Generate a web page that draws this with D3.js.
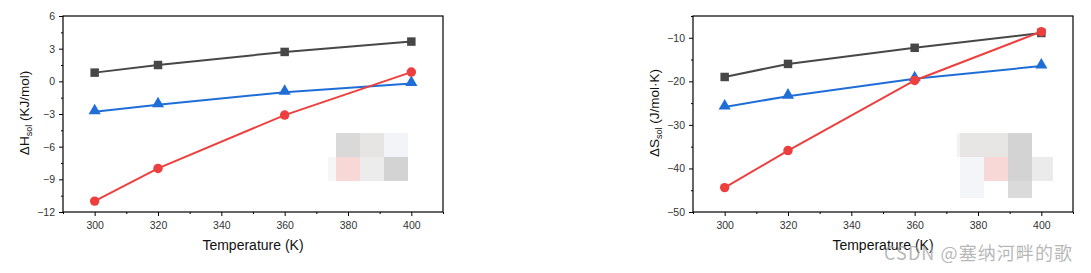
<!DOCTYPE html>
<html>
<head>
<meta charset="utf-8">
<script src="https://cdn.jsdelivr.net/npm/d3@7"></script>
<style>
  body { margin: 0; background: #fff; }
  svg { display: block; font-family: Arial, "Liberation Sans", sans-serif; }
</style>
</head>
<body>
<div id="chart"></div>
<script>
// Data
const temps = [300, 320, 360, 400];

// Left panel: enthalpy of solution (KJ/mol)
const dH_square = [0.8, 1.5, 2.7, 3.65];
const dH_circle = [-11.0, -8.0, -3.1, 0.85];
const dH_triangle = [-2.8, -2.15, -1.0, -0.2];

// Right panel: entropy of solution (J/mol·K)
const dS_square = [-19.0, -16.0, -12.3, -8.9];
const dS_circle = [-44.4, -35.9, -19.8, -8.6];
const dS_triangle = [-25.9, -23.4, -19.4, -16.5];

const xTicks = [300, 320, 340, 360, 380, 400];
const dH_ticks = [-12, -9, -6, -3, 0, 3, 6];
const dS_ticks = [-50, -40, -30, -20, -10];

const colors = { square: "#474747", circle: "#ee3f3f", triangle: "#1f6ed8" };

const width = 1091;
const height = 273;

const svg = d3.select("#chart")
    .append("svg")
    .attr("width", width)
    .attr("height", height);

function drawPanel(opts) {
    const { left, right, top, bottom, yDomain, yTicks, yMinorStep, series, yMain, yUnit, yLabelX } = opts;

    const xScale = d3.scaleLinear().domain([290, 410]).range([left, right]);
    const yScale = d3.scaleLinear().domain(yDomain).range([bottom, top]);

    const g = svg.append("g");

    // decorative mosaic blocks (blurred legend)
    g.selectAll(".mosaic")
        .data(opts.mosaic)
        .enter()
        .append("rect")
        .attr("x", d => d[0]).attr("y", d => d[1])
        .attr("width", d => d[2]).attr("height", d => d[3])
        .attr("fill", d => d[4]);

    // frame
    g.append("rect")
        .attr("x", left).attr("y", top)
        .attr("width", right - left).attr("height", bottom - top)
        .attr("fill", "none").attr("stroke", "#000").attr("stroke-width", 1.2);

    // X axis
    const xAxis = d3.axisBottom(xScale).tickValues(xTicks).tickSize(4).tickSizeOuter(0).tickPadding(6);
    const xg = g.append("g").attr("transform", `translate(0, ${bottom})`).call(xAxis);
    const xMinor = d3.axisBottom(xScale).tickValues(d3.range(290, 411, 10).filter(v => v % 20 !== 0)).tickSize(2).tickFormat("");
    const xmg = g.append("g").attr("transform", `translate(0, ${bottom})`).call(xMinor);

    // Y axis
    const yAxis = d3.axisLeft(yScale).tickValues(yTicks).tickSize(4).tickSizeOuter(0).tickPadding(4)
        .tickFormat(d => d < 0 ? "\u2212" + Math.abs(d) : d);
    const yg = g.append("g").attr("transform", `translate(${left}, 0)`).call(yAxis);
    const minorVals = d3.range(yDomain[0], yDomain[1] + 0.001, yMinorStep).filter(v => !yTicks.includes(v));
    const yMinor = d3.axisLeft(yScale).tickValues(minorVals).tickSize(2).tickFormat("");
    const ymg = g.append("g").attr("transform", `translate(${left}, 0)`).call(yMinor);

    [xg, xmg, yg, ymg].forEach(a => {
        a.select(".domain").remove();
        a.selectAll("line").attr("stroke", "#000").attr("stroke-width", 1);
        a.selectAll("text").attr("fill", "#333").style("font-size", "10.5px");
    });

    // axis titles
    g.append("text")
        .attr("x", (left + right) / 2)
        .attr("y", bottom + 38)
        .attr("text-anchor", "middle")
        .style("font-size", "14px")
        .attr("fill", "#111")
        .text("Temperature (K)");

    const yl = g.append("text")
        .attr("transform", `translate(${yLabelX}, ${(top + bottom) / 2 - 1}) rotate(-90)`)
        .attr("text-anchor", "middle")
        .style("font-size", "13.5px")
        .attr("fill", "#111");
    yl.append("tspan").text("\u0394" + yMain);
    yl.append("tspan").attr("dy", 3).style("font-size", "9px").text("sol");
    yl.append("tspan").attr("dy", -3).text(" " + yUnit);

    // series
    const line = d3.line().x((d, i) => xScale(temps[i])).y(d => yScale(d));
    series.forEach(s => {
        g.append("path")
            .datum(s.values)
            .attr("d", line)
            .attr("fill", "none")
            .attr("stroke", colors[s.shape])
            .attr("stroke-width", 2);

        const sym = s.shape === "square" ? d3.symbolSquare : s.shape === "circle" ? d3.symbolCircle : d3.symbolTriangle;
        const size = s.shape === "square" ? 72 : s.shape === "circle" ? 70 : 64;
        g.selectAll(null)
            .data(s.values)
            .enter()
            .append("path")
            .attr("d", d3.symbol().type(sym).size(size))
            .attr("transform", (d, i) => `translate(${xScale(temps[i])}, ${yScale(d) + (s.shape === "triangle" ? -1 : 0)})`)
            .attr("fill", colors[s.shape]);
    });
}

drawPanel({
    left: 63, right: 443, top: 16, bottom: 212,
    yDomain: [-12, 6], yTicks: dH_ticks, yMinorStep: 1.5,
    yMain: "H", yUnit: "(KJ/mol)", yLabelX: 29,
    series: [
        { shape: "square", values: dH_square },
        { shape: "triangle", values: dH_triangle },
        { shape: "circle", values: dH_circle }
    ],
    mosaic: [
        [336, 133, 24, 24, "#d9d9d9"], [360, 133, 24, 24, "#e6e5e3"], [384, 133, 24, 24, "#f3f4f8"],
        [328, 157, 8, 24, "#f6f6f6"], [336, 157, 24, 24, "#f8d7d7"], [360, 157, 24, 24, "#ececec"], [384, 157, 24, 24, "#d3d3d3"]
    ]
});

drawPanel({
    left: 693, right: 1073, top: 16, bottom: 212,
    yDomain: [-50, -5], yTicks: dS_ticks, yMinorStep: 5,
    yMain: "S", yUnit: "(J/mol\u00b7K)", yLabelX: 659,
    series: [
        { shape: "square", values: dS_square },
        { shape: "triangle", values: dS_triangle },
        { shape: "circle", values: dS_circle }
    ],
    mosaic: [
        [957, 133, 3, 24, "#f2f2f2"],
        [960, 133, 48, 24, "#e7e6e4"], [1008, 133, 24, 24, "#d3d3d3"],
        [960, 157, 24, 24, "#f4f5f9"], [984, 157, 24, 24, "#f8d7d7"], [1008, 157, 24, 24, "#d3d3d3"], [1032, 157, 21, 24, "#ebebeb"],
        [960, 181, 24, 17, "#f4f5f9"], [1008, 181, 24, 17, "#dadada"]
    ]
});

// watermark
svg.append("text")
    .attr("x", 884)
    .attr("y", 260)
    .attr("textLength", 188)
    .style("font-family", "'Noto Sans CJK SC', sans-serif")
    .style("font-size", "18px")
    .attr("fill", "#a0a0a0")
    .attr("fill-opacity", 0.75)
    .text("CSDN @塞纳河畔的歌");
</script>
</body>
</html>
